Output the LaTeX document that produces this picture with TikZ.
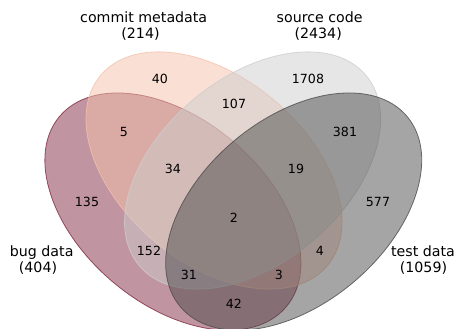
\documentclass[tikz,border=0pt]{standalone}
\usepackage{fontspec}
\setmainfont{DejaVu Sans}
\definecolor{cbug}{RGB}{129,41,65}
\definecolor{ccommit}{RGB}{245,193,169}
\definecolor{csource}{RGB}{205,205,205}
\definecolor{ctest}{RGB}{75,75,75}
\begin{document}
\begin{tikzpicture}[x=1pt,y=1pt,
  setshape/.style={fill=#1, fill opacity=0.5, draw=#1, draw opacity=0.8, line width=0.8pt},
  count/.style={font=\fontsize{12.6}{14}\selectfont, inner sep=0pt},
  setlabel/.style={font=\fontsize{14.2}{16}\selectfont, inner sep=0pt, anchor=base}]
\useasboundingbox (0,0) rectangle (455,329);
% ellipses
\path[setshape=cbug, rotate around={-40:(172.9,117.4)}] (172.9,117.4) ellipse [x radius=148, y radius=92.5];
\path[setshape=ccommit, rotate around={-40:(214.0,158.5)}] (214.0,158.5) ellipse [x radius=148, y radius=92.5];
\path[setshape=csource, rotate around={40:(252.6,158.5)}] (252.6,158.5) ellipse [x radius=148, y radius=92.5];
\path[setshape=ctest, rotate around={40:(293.7,117.4)}] (293.7,117.4) ellipse [x radius=148, y radius=92.5];
% counts
\node[count] (n40) at (160,250) {40};
\node[count] (n1708) at (308,250) {1708};
\node[count] (n107) at (234,225) {107};
\node[count] (n5) at (124,197) {5};
\node[count] (n381) at (345,197) {381};
\node[count] (n34) at (173,160) {34};
\node[count] (n19) at (296,160) {19};
\node[count] (n135) at (87,127) {135};
\node[count] (n577) at (378,127) {577};
\node[count] (n2) at (234,111) {2};
\node[count] (n152) at (149,78) {152};
\node[count] (n4) at (320,78) {4};
\node[count] (n31) at (189,54) {31};
\node[count] (n3) at (279,54) {3};
\node[count] (n42) at (234,25) {42};
% set labels
\node[setlabel] (lcommit) at (143.7,306.3) {commit metadata};
\node[setlabel] (lcommitn) at (140.5,290.7) {(214)};
\node[setlabel] (lsource) at (319.7,306.3) {source code};
\node[setlabel] (lsourcen) at (318.2,290.7) {(2434)};
\node[setlabel] (lbug) at (41.7,72.3) {bug data};
\node[setlabel] (lbugn) at (38,56.7) {(404)};
\node[setlabel] (ltest) at (423,72.3) {test data};
\node[setlabel] (ltestn) at (423.5,56.7) {(1059)};
\end{tikzpicture}
\end{document}
